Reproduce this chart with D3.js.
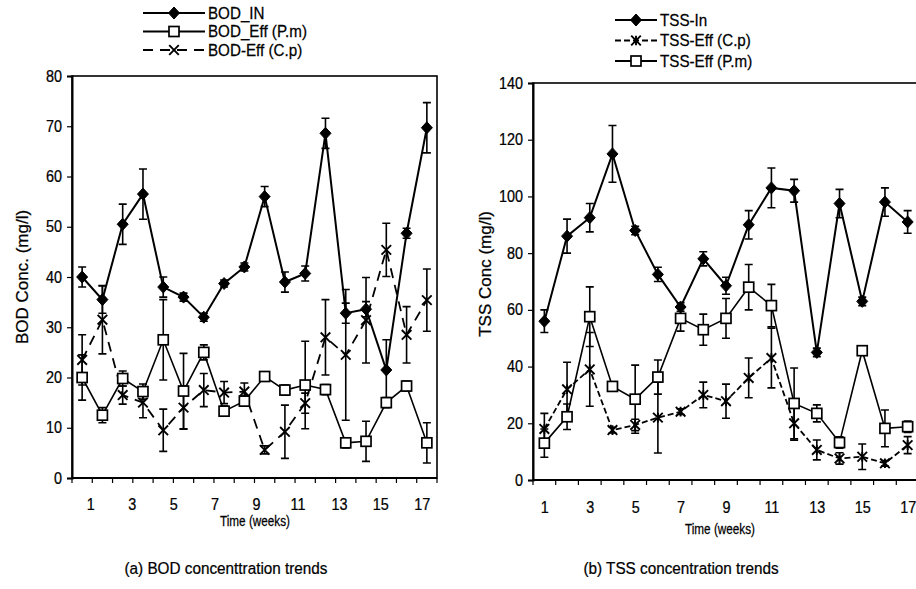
<!DOCTYPE html>
<html>
<head>
<meta charset="utf-8">
<script src="https://cdn.jsdelivr.net/npm/d3@7"></script>
<style>
  html, body { margin: 0; padding: 0; background: #fff; }
  svg { display: block; }
  text { font-family: "Liberation Sans", Arial, sans-serif; fill: #000; stroke: #000; stroke-width: 0.25px; }
</style>
</head>
<body>
<svg id="chart" width="916" height="589"></svg>
<script>
// ---- BOD panel (18 weekly samples) ----
const bodWeeks = [1, 2, 3, 4, 5, 6, 7, 8, 9, 10, 11, 12, 13, 14, 15, 16, 17, 18];
const bodTickLabels = [1, 3, 5, 7, 9, 11, 13, 15, 17];
const bodIn     = [40, 35.5, 50.5, 56.5, 38, 36, 32, 38.7, 42, 56, 39, 40.7, 68.6, 32.8, 33.6, 21.5, 48.7, 69.7];
const bodInErr  = [2, 2.7, 4, 5, 2, 0.8, 0.8, 0.7, 0.8, 2, 2, 1.5, 3, 2, 1.5, 6, 1, 5];
const bodPm     = [20, 12.5, 19.8, 17.2, 27.5, 17.3, 25, 13.3, 15.3, 20.2, 17.5, 18.5, 17.6, 7, 7.3, 15, 18.3, 7];
const bodPmErr  = [4.5, 1.5, 1.5, 1.5, 8, 7.5, 1.5, 1, 1, 0.8, 1, 8.7, 1, 1, 4, 1, 1, 4];
const bodCp     = [23.5, 31.5, 16.5, 15, 9.5, 14, 17.5, 17, 17.2, 5.6, 9.2, 14.9, 28, 24.5, 31.4, 45.4, 28.5, 35.4];
const bodCpErr  = [5, 6.8, 1.8, 3, 4.2, 4.3, 3.3, 2.2, 1.7, 0.8, 5.3, 2, 7.5, 13, 8.5, 5.3, 5.6, 6.2];
const bodYTicks = [0, 10, 20, 30, 40, 50, 60, 70, 80];

// ---- TSS panel (17 weekly samples) ----
const tssWeeks = [1, 2, 3, 4, 5, 6, 7, 8, 9, 10, 11, 12, 13, 14, 15, 16, 17];
const tssTickLabels = [1, 3, 5, 7, 9, 11, 13, 15, 17];
const tssIn     = [56, 86, 92.5, 115, 88, 72.5, 61, 78, 68.5, 90, 103, 102, 45, 97.5, 63, 98, 91];
const tssInErr  = [4, 6, 5, 10, 1.5, 2.5, 1.5, 2.5, 3, 5, 7, 4, 1.5, 5, 1.5, 5, 4];
const tssCp     = [18, 32, 39, 17.6, 19.4, 22, 24.1, 30, 27.8, 36, 43, 20, 10.6, 7.6, 8.2, 5.9, 12.3];
const tssCpErr  = [5.5, 9.5, 13, 1, 2, 12.5, 1, 4.5, 6, 7, 10.5, 6, 3.5, 2, 4.5, 1, 3];
const tssPm     = [13, 22.3, 57.6, 33, 28.5, 36.3, 57, 53, 57, 68, 61.5, 27, 23.5, 13.2, 45.6, 18.2, 18.8];
const tssPmErr  = [5, 4.5, 10.5, 1, 12, 6, 4.5, 5.5, 7, 8, 7.5, 12.5, 3, 2, 1.5, 6.5, 2];
const tssYTicks = [0, 20, 40, 60, 80, 100, 120, 140];

const svg = d3.select("#chart");

// horizontally condense text around the given origin
function squeeze(sel, k, origin) {
  sel.style("transform-box", "fill-box").style("transform-origin", origin)
     .style("transform", `scaleX(${k})`);
}

// marker painters
function drawMarker(g, type, cx, cy) {
  if (type === "diamond") {
    g.append("path")
      .attr("d", `M${cx},${cy - 6}L${cx + 5.5},${cy}L${cx},${cy + 6}L${cx - 5.5},${cy}Z`)
      .attr("fill", "#000").attr("stroke", "#000").attr("stroke-width", 1);
  } else if (type === "square") {
    g.append("rect")
      .attr("x", cx - 5).attr("y", cy - 5).attr("width", 10).attr("height", 10)
      .attr("fill", "#fff").attr("stroke", "#000").attr("stroke-width", 1.7);
  } else if (type === "cross" || type === "star") {
    const r = 4.8;
    g.append("path")
      .attr("d", `M${cx - r},${cy - r}L${cx + r},${cy + r}M${cx - r},${cy + r}L${cx + r},${cy - r}` +
                 (type === "star" ? `M${cx},${cy - r}L${cx},${cy + r}` : ""))
      .attr("fill", "none").attr("stroke", "#000").attr("stroke-width", 1.9);
  }
}

function panel(cfg) {
  const g = svg.append("g");
  const x = d3.scaleBand().domain(cfg.weeks).range([cfg.left, cfg.right]);
  const y = d3.scaleLinear().domain(cfg.yDomain).range([cfg.bottom, cfg.top]);
  const cx = w => x(w) + x.bandwidth() / 2;

  // plot frame
  g.append("rect")
    .attr("x", cfg.left).attr("y", cfg.top)
    .attr("width", cfg.right - cfg.left).attr("height", cfg.bottom - cfg.top)
    .attr("fill", "none").attr("stroke", "#000").attr("stroke-width", 1.6);

  // y axis
  const yAxis = d3.axisLeft(y).tickValues(cfg.yTicks).tickSize(5).tickPadding(5);
  const ya = g.append("g").attr("transform", `translate(${cfg.left},0)`).call(yAxis);
  ya.select(".domain").attr("stroke-width", 2);
  ya.selectAll(".tick line").attr("stroke-width", 1.2);
  ya.selectAll("text").style("font-size", "16px").attr("font-family", null);
  squeeze(ya.selectAll("text"), 0.9, "100% 50%");

  // x axis: tick marks sit between categories
  const xa = g.append("g").attr("transform", `translate(0,${cfg.bottom})`);
  xa.append("line").attr("x1", cfg.left).attr("x2", cfg.right)
    .attr("stroke", "#000").attr("stroke-width", 2);
  const edges = cfg.weeks.map(w => x(w)).concat([x(cfg.weeks[cfg.weeks.length - 1]) + x.bandwidth()]);
  xa.selectAll("line.tk").data(edges).join("line").attr("class", "tk")
    .attr("x1", d => d).attr("x2", d => d).attr("y1", 0).attr("y2", 5)
    .attr("stroke", "#000").attr("stroke-width", 1.2);
  const lab = cfg.labelScale(x, cx);
  const la = g.append("g").attr("transform", `translate(0,${cfg.bottom})`)
    .call(d3.axisBottom(lab).tickValues(cfg.tickLabels).tickSize(0).tickPadding(cfg.labelPad));
  la.select(".domain").remove();
  la.selectAll("text").style("font-size", "16px").attr("font-family", null);
  squeeze(la.selectAll("text"), 0.9, "50% 50%");

  // error bars
  cfg.series.forEach(s => {
    const eg = g.append("g");
    cfg.weeks.forEach((w, i) => {
      const v = s.values[i], e = s.err[i];
      const px = cx(w), y1 = y(v + e), y2 = y(v - e);
      eg.append("path")
        .attr("d", `M${px},${y1}L${px},${y2}M${px - 4},${y1}L${px + 4},${y1}M${px - 4},${y2}L${px + 4},${y2}`)
        .attr("stroke", "#000").attr("stroke-width", 1.6).attr("fill", "none");
    });
  });

  // series lines and markers
  cfg.series.forEach(s => {
    const line = d3.line().x((d, i) => cx(cfg.weeks[i])).y(d => y(d));
    g.append("path").datum(s.values)
      .attr("d", line).attr("fill", "none").attr("stroke", "#000")
      .attr("stroke-width", s.width).attr("stroke-dasharray", s.dash || null);
  });
  cfg.series.forEach(s => {
    const mg = g.append("g");
    s.values.forEach((v, i) => drawMarker(mg, s.marker, cx(cfg.weeks[i]), y(v)));
  });

  // axis titles and caption
  g.append("g")
    .attr("transform", `translate(${cfg.yTitleX},${cfg.yTitleY}) rotate(-90)`)
    .append("text").attr("text-anchor", "middle").style("font-size", "17px").text(cfg.yTitle);
  const tt = g.append("text").attr("x", cfg.xTitleX).attr("y", cfg.xTitleY)
    .attr("text-anchor", "middle").style("font-size", "14px").text("Time (weeks)");
  squeeze(tt, 0.84, "50% 50%");
  const cap = g.append("text").attr("x", cfg.captionX).attr("y", 574)
    .attr("text-anchor", "middle").style("font-size", "17px").text(cfg.caption);
  squeeze(cap, 0.9, "50% 50%");

  // legend
  const lg = g.append("g");
  cfg.series.slice().sort((a, b) => a.legendRow - b.legendRow).forEach((s, k) => {
    const ly = cfg.legend.y + k * cfg.legend.dy;
    lg.append("line").attr("x1", cfg.legend.x0).attr("x2", cfg.legend.x1)
      .attr("y1", ly).attr("y2", ly).attr("stroke", "#000")
      .attr("stroke-width", 1.8).attr("stroke-dasharray", s.dash || null);
    drawMarker(lg, s.marker, (cfg.legend.x0 + cfg.legend.x1) / 2, ly);
    const t = lg.append("text").attr("x", cfg.legend.x1 + 3).attr("y", ly + 6)
      .style("font-size", "16px").text(s.name);
    squeeze(t, 0.95, "0% 50%");
  });
}

panel({
  weeks: bodWeeks, tickLabels: bodTickLabels,
  left: 72, right: 437, top: 76, bottom: 478,
  yDomain: [0, 80], yTicks: bodYTicks,
  labelScale: (x, cx) => d3.scaleLinear().domain([1, 17])
    .range([cx(1) + x.bandwidth() * 0.4, cx(18) - x.bandwidth() * 0.25]),
  labelPad: 21,
  yTitle: "BOD Conc. (mg/l)", yTitleX: 28, yTitleY: 277,
  xTitleX: 255, xTitleY: 526,
  caption: "(a) BOD concenttration trends", captionX: 226,
  legend: { x0: 143, x1: 205, y: 13, dy: 18.5 },
  series: [
    { name: "BOD_IN", values: bodIn, err: bodInErr, marker: "diamond", width: 2, legendRow: 0 },
    { name: "BOD_Eff (P.m)", values: bodPm, err: bodPmErr, marker: "square", width: 1.6, legendRow: 1 },
    { name: "BOD-Eff (C.p)", values: bodCp, err: bodCpErr, marker: "cross", width: 1.8, dash: "10,7", legendRow: 2 }
  ]
});

panel({
  weeks: tssWeeks, tickLabels: tssTickLabels,
  left: 533, right: 919, top: 83, bottom: 480,
  yDomain: [0, 140], yTicks: tssYTicks,
  labelScale: (x, cx) => d3.scaleLinear().domain([1, 17]).range([cx(1), cx(17)]),
  labelPad: 22,
  yTitle: "TSS Conc (mg/l)", yTitleX: 491, yTitleY: 274,
  xTitleX: 720, xTitleY: 534,
  caption: "(b) TSS concentration trends", captionX: 681,
  legend: { x0: 615, x1: 657, y: 20, dy: 20.5 },
  series: [
    { name: "TSS-In", values: tssIn, err: tssInErr, marker: "diamond", width: 2, legendRow: 0 },
    { name: "TSS-Eff (C.p)", values: tssCp, err: tssCpErr, marker: "star", width: 1.8, dash: "6,3", legendRow: 1 },
    { name: "TSS-Eff (P.m)", values: tssPm, err: tssPmErr, marker: "square", width: 1.6, legendRow: 2 }
  ]
});
</script>
</body>
</html>
